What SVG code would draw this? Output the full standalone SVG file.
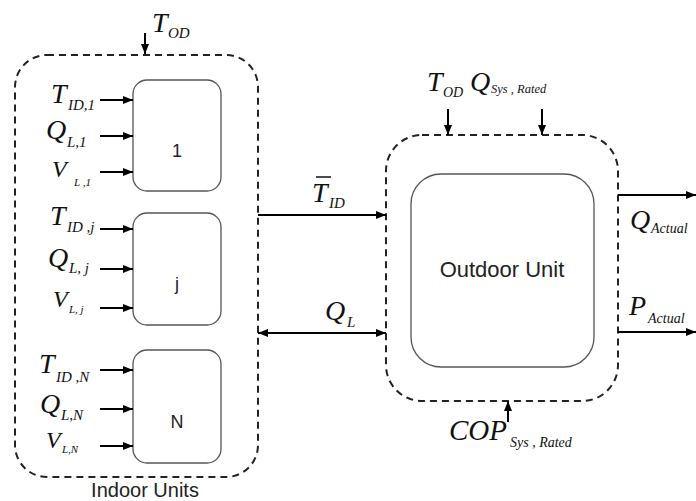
<svg xmlns="http://www.w3.org/2000/svg" width="696" height="501" viewBox="0 0 696 501">
  <defs>
    <marker id="arr" viewBox="0 0 10 10" refX="10" refY="5" markerWidth="10" markerHeight="10" markerUnits="userSpaceOnUse" orient="auto-start-reverse">
      <path d="M0,1 L10,5 L0,9 Z" fill="#000"/>
    </marker>
    <style>
      .dash { fill: none; stroke: #222; stroke-width: 2; stroke-dasharray: 7 5; }
      .box { fill: #fff; stroke: #555; stroke-width: 1.3; }
      .wire { fill: none; stroke: #000; stroke-width: 2; }
      .lbl { font-family: "Liberation Sans", Arial, sans-serif; fill: #222; }
      .m { font-family: "Liberation Serif", "Times New Roman", serif; font-style: italic; fill: #111; }
      .big { font-size: 28px; }
      .mid { font-size: 24px; }
      .sub { font-size: 15px; }
      .ssub { font-size: 11px; }
      .rsub { font-size: 13px; }
    </style>
  </defs>

  <!-- containers -->
  <rect id="indoor-units" class="dash" x="15" y="55" width="243" height="422" rx="32"/>
  <rect id="outdoor-frame" class="dash" x="386" y="135" width="232" height="266" rx="36"/>
  <text class="lbl" x="145" y="497" font-size="20" text-anchor="middle">Indoor Units</text>

  <!-- indoor unit nodes -->
  <g id="unit-1">
    <rect class="box" x="133" y="80" width="88" height="111" rx="14"/>
    <text class="lbl" x="177" y="157" font-size="18" text-anchor="middle">1</text>
  </g>
  <g id="unit-j">
    <rect class="box" x="133" y="213" width="88" height="112" rx="14"/>
    <text class="lbl" x="177" y="290" font-size="18" text-anchor="middle">j</text>
  </g>
  <g id="unit-N">
    <rect class="box" x="133" y="350" width="88" height="113" rx="14"/>
    <text class="lbl" x="177" y="428" font-size="18" text-anchor="middle">N</text>
  </g>

  <!-- outdoor unit node -->
  <g id="outdoor-unit">
    <rect class="box" x="411" y="174" width="183" height="193" rx="30"/>
    <text class="lbl" x="502" y="277" font-size="22" text-anchor="middle">Outdoor Unit</text>
  </g>

  <!-- connectors -->
  <g id="connectors">
    <line class="wire" x1="145" y1="33" x2="145" y2="54" marker-end="url(#arr)"/>
    <line class="wire" x1="100" y1="100" x2="133" y2="100" marker-end="url(#arr)"/>
    <line class="wire" x1="100" y1="136" x2="133" y2="136" marker-end="url(#arr)"/>
    <line class="wire" x1="100" y1="172" x2="133" y2="172" marker-end="url(#arr)"/>
    <line class="wire" x1="100" y1="229" x2="133" y2="229" marker-end="url(#arr)"/>
    <line class="wire" x1="100" y1="269" x2="133" y2="269" marker-end="url(#arr)"/>
    <line class="wire" x1="100" y1="308" x2="133" y2="308" marker-end="url(#arr)"/>
    <line class="wire" x1="100" y1="370" x2="133" y2="370" marker-end="url(#arr)"/>
    <line class="wire" x1="100" y1="409" x2="133" y2="409" marker-end="url(#arr)"/>
    <line class="wire" x1="100" y1="446" x2="133" y2="446" marker-end="url(#arr)"/>
    <line class="wire" x1="258" y1="215" x2="386" y2="215" marker-end="url(#arr)"/>
    <line class="wire" x1="258" y1="333" x2="386" y2="333" marker-start="url(#arr)" marker-end="url(#arr)"/>
    <line class="wire" x1="448" y1="109" x2="448" y2="135" marker-end="url(#arr)"/>
    <line class="wire" x1="542" y1="109" x2="542" y2="135" marker-end="url(#arr)"/>
    <line class="wire" x1="618" y1="195" x2="696" y2="195" marker-end="url(#arr)"/>
    <line class="wire" x1="618" y1="332" x2="696" y2="332" marker-end="url(#arr)"/>
    <line class="wire" x1="508" y1="422" x2="508" y2="401" marker-end="url(#arr)"/>
  </g>

  <!-- variable labels -->
  <text class="m big" x="152" y="32">T<tspan class="sub" x="168" y="38">OD</tspan></text>

  <text class="m big" x="51" y="103">T<tspan class="sub" x="68" y="110">ID,1</tspan></text>
  <text class="m big" x="46" y="139">Q<tspan class="sub" x="67" y="147">L,1</tspan></text>
  <text class="m mid" x="52" y="177">V<tspan class="ssub" x="74" y="186">L ,1</tspan></text>

  <text class="m big" x="50" y="225">T<tspan class="sub" x="67" y="232">ID ,j</tspan></text>
  <text class="m big" x="48" y="267">Q<tspan class="sub" x="69" y="273">L, j</tspan></text>
  <text class="m mid" x="53" y="307">V<tspan class="ssub" x="69" y="313">L, j</tspan></text>

  <text class="m big" x="39" y="373">T<tspan class="sub" x="56" y="382">ID ,N</tspan></text>
  <text class="m big" x="40" y="413">Q<tspan class="sub" x="61" y="420">L,N</tspan></text>
  <text class="m mid" x="46" y="448">V<tspan class="ssub" x="62" y="453">L,N</tspan></text>

  <line x1="316" y1="177" x2="331" y2="177" stroke="#111" stroke-width="1.5"/>
  <text class="m big" x="312" y="202">T<tspan class="sub" x="329" y="208">ID</tspan></text>
  <text class="m big" x="325" y="320">Q<tspan class="sub" x="347" y="327">L</tspan></text>

  <text class="m big" x="427" y="91">T<tspan class="sub" x="443" y="97" style="font-size:14px">OD</tspan></text>
  <text class="m big" x="470" y="91">Q<tspan class="ssub" x="491" y="93" style="font-size:12.5px">Sys , Rated</tspan></text>

  <text class="m big" x="630" y="229">Q<tspan class="rsub" x="651" y="233" style="font-size:14px">Actual</tspan></text>
  <text class="m big" x="629" y="315">P<tspan class="rsub" x="648" y="323" style="font-size:14px">Actual</tspan></text>

  <text class="m big" x="449" y="440" style="font-size:29px">COP<tspan class="rsub" x="510" y="447" style="font-size:14px">Sys , Rated</tspan></text>
</svg>
